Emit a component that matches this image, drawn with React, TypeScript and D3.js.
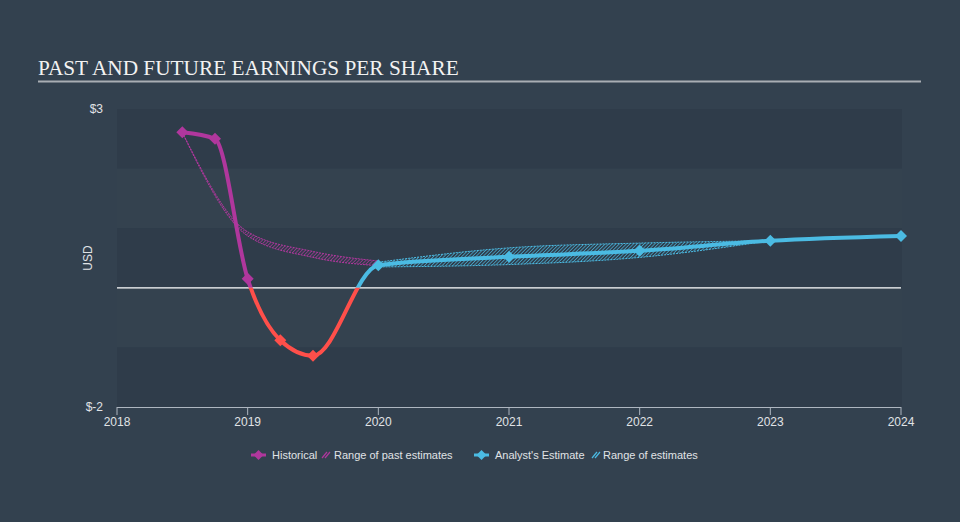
import React from "react";
import * as d3 from "d3";

const histYears = [2018.5, 2018.75, 2019.0, 2019.25, 2019.5];
const histEPS = [2.61, 2.5, 0.15, -0.88, -1.14];

const estYears = [2020, 2021, 2022, 2023, 2024];
const estEPS = [0.38, 0.52, 0.62, 0.79, 0.87];

const pastRangeYears = [2018.5, 2019.0, 2019.5, 2020.0];
const pastRangeHigh = [2.61, 0.94, 0.61, 0.45];
const pastRangeLow = [2.6, 0.87, 0.51, 0.37];

const estRangeYears = [2020, 2021, 2022, 2023];
const estRangeHigh = [0.43, 0.67, 0.75, 0.79];
const estRangeLow = [0.35, 0.39, 0.51, 0.79];

const xTicks = [2018, 2019, 2020, 2021, 2022, 2023, 2024];
const yTickValues = [3, -2];
const yTickLabels = ["$3", "$-2"];
const bandValues = [3, 2, 1, 0, -1];

const W = 960;
const H = 522;
const PURPLE = "#b0379d";
const BLUE = "#4bbbe3";
const RED = "#ff4f4a";

export default function App() {
  const x = d3.scaleLinear().domain([2018, 2024]).range([117, 901]);
  const y = d3.scaleLinear().domain([-2, 3]).range([407, 109]);

  const allPts: [number, number][] = [
    ...histYears.map((v, i) => [v, histEPS[i]] as [number, number]),
    ...estYears.map((v, i) => [v, estEPS[i]] as [number, number]),
  ];
  const line = d3
    .line<[number, number]>()
    .x((d) => x(d[0]))
    .y((d) => y(d[1]))
    .curve(d3.curveMonotoneX);
  const mainPath = line(allPts) || "";

  const area = (ys: number[], hi: number[], lo: number[]) =>
    d3
      .area<number>()
      .x((_, i) => x(ys[i]))
      .y0((_, i) => y(lo[i]))
      .y1((_, i) => y(hi[i]))
      .curve(d3.curveMonotoneX)(ys.map((_, i) => i)) || "";

  const pastArea = area(pastRangeYears, pastRangeHigh, pastRangeLow);
  const estArea = area(estRangeYears, estRangeHigh, estRangeLow);

  const diamond = (cx: number, cy: number, r: number) =>
    `M${cx},${cy - r}L${cx + r},${cy}L${cx},${cy + r}L${cx - r},${cy}Z`;

  const zeroY = y(0);
  const splitX = x(2019.5);

  const legendY = 455;

  return (
    <svg
      width={W}
      height={H}
      style={{ position: "absolute", left: 0, top: 0 }}
      fontFamily="'Liberation Sans', Arial, sans-serif"
    >
      <defs>
        <pattern id="hatchP" width="2.5" height="2.5" patternUnits="userSpaceOnUse" patternTransform="rotate(45)">
          <line x1="0" y1="0" x2="0" y2="2.5" stroke={PURPLE} strokeWidth="1.3" />
        </pattern>
        <pattern id="hatchB" width="2.5" height="2.5" patternUnits="userSpaceOnUse" patternTransform="rotate(45)">
          <line x1="0" y1="0" x2="0" y2="2.5" stroke={BLUE} strokeWidth="1.3" />
        </pattern>
        <clipPath id="clipPurple">
          <rect x={0} y={0} width={splitX} height={zeroY} />
        </clipPath>
        <clipPath id="clipBlue">
          <rect x={splitX} y={0} width={W - splitX} height={zeroY} />
        </clipPath>
        <clipPath id="clipRed">
          <rect x={0} y={zeroY} width={W} height={H - zeroY} />
        </clipPath>
      </defs>

      <rect x={0} y={0} width={W} height={H} fill="#33414f" />

      {/* Title */}
      <text x={38} y={75} fill="#f2f2f2" fontSize={21.3} fontFamily="'Liberation Serif', 'Times New Roman', serif">
        PAST AND FUTURE EARNINGS PER SHARE
      </text>
      <line x1={38} x2={921} y1={81.5} y2={81.5} stroke="#a9aeb4" strokeWidth={2} />

      {/* bands */}
      {bandValues.map((v, i) => (
        <rect
          key={v}
          x={x(2018)}
          y={y(v)}
          width={x(2024) - x(2018) + 1}
          height={y(v - 1) - y(v)}
          fill={i % 2 === 0 ? "#2f3c4a" : "#34424f"}
        />
      ))}

      {/* y tick labels */}
      {yTickValues.map((v, i) => (
        <text key={v} x={103} y={y(v) + 4} fill="#e0e3e6" fontSize={12} textAnchor="end">
          {yTickLabels[i]}
        </text>
      ))}
      <text
        transform={`translate(92,${(y(3) + y(-2)) / 2}) rotate(-90)`}
        fill="#e0e3e6"
        fontSize={12}
        textAnchor="middle"
      >
        USD
      </text>

      {/* x axis */}
      <line x1={x(2018)} x2={x(2024)} y1={407.5} y2={407.5} stroke="#aeb6c0" strokeWidth={1} />
      {xTicks.map((t) => (
        <g key={t}>
          <line x1={x(t)} x2={x(t)} y1={407} y2={415} stroke="#aeb6c0" strokeWidth={1} />
          <text x={x(t)} y={426} fill="#e0e3e6" fontSize={12} textAnchor="middle">
            {t}
          </text>
        </g>
      ))}

      {/* zero line */}
      <line x1={x(2018)} x2={x(2024)} y1={zeroY} y2={zeroY} stroke="#ffffff" strokeWidth={1.2} />

      {/* ranges */}
      <path d={pastArea} fill="url(#hatchP)" stroke={PURPLE} strokeWidth={1} strokeDasharray="2,1" />
      <path d={estArea} fill="url(#hatchB)" stroke={BLUE} strokeWidth={1} strokeDasharray="2,1" />

      {/* main line */}
      <path d={mainPath} fill="none" stroke={PURPLE} strokeWidth={4} clipPath="url(#clipPurple)" />
      <path d={mainPath} fill="none" stroke={BLUE} strokeWidth={4} clipPath="url(#clipBlue)" />
      <path d={mainPath} fill="none" stroke={RED} strokeWidth={4} clipPath="url(#clipRed)" />

      {/* markers */}
      {histYears.map((v, i) => (
        <path
          key={"h" + v}
          d={diamond(x(v), y(histEPS[i]), 6)}
          fill={histEPS[i] < 0 ? RED : PURPLE}
        />
      ))}
      {estYears.map((v, i) => (
        <path key={"e" + v} d={diamond(x(v), y(estEPS[i]), 6)} fill={BLUE} />
      ))}

      {/* legend */}
      <g fontSize={11} fill="#e0e3e6">
        <line x1={251} x2={266} y1={legendY} y2={legendY} stroke={PURPLE} strokeWidth={3} />
        <path d={diamond(258.5, legendY, 5)} fill={PURPLE} />
        <text x={272} y={legendY + 4}>Historical</text>
        <g stroke={PURPLE} strokeWidth={1.2}>
          <line x1={322} x2={327} y1={legendY + 3} y2={legendY - 3} />
          <line x1={325} x2={330} y1={legendY + 3} y2={legendY - 3} />
        </g>
        <text x={334} y={legendY + 4}>Range of past estimates</text>

        <line x1={474} x2={489} y1={legendY} y2={legendY} stroke={BLUE} strokeWidth={3} />
        <path d={diamond(481.5, legendY, 5)} fill={BLUE} />
        <text x={495} y={legendY + 4}>Analyst's Estimate</text>
        <g stroke={BLUE} strokeWidth={1.2}>
          <line x1={592} x2={597} y1={legendY + 3} y2={legendY - 3} />
          <line x1={595} x2={600} y1={legendY + 3} y2={legendY - 3} />
        </g>
        <text x={603} y={legendY + 4}>Range of estimates</text>
      </g>
    </svg>
  );
}
